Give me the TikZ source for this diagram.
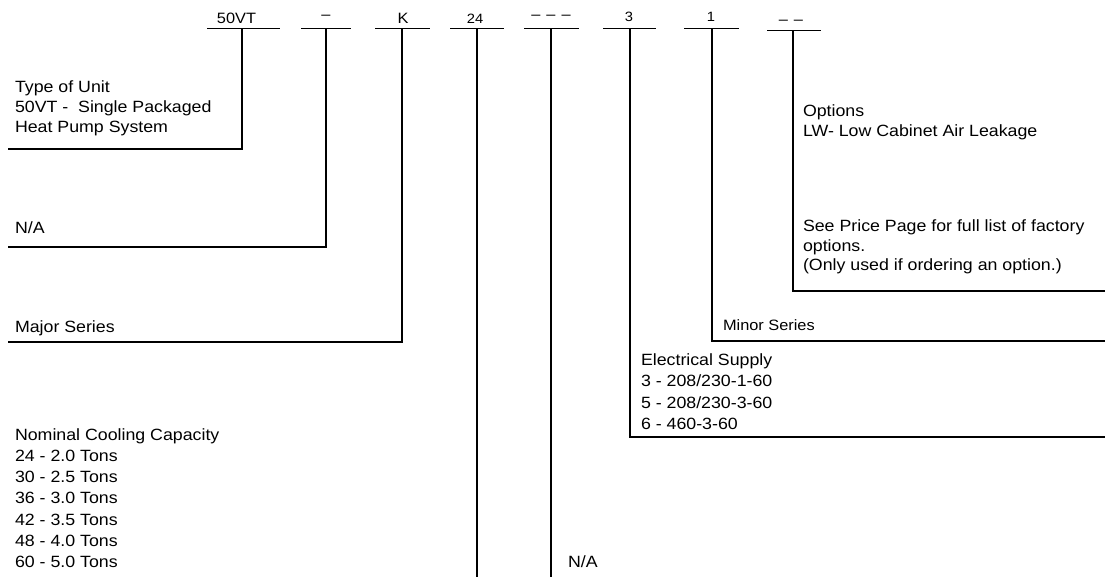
\documentclass[tikz,border=0pt]{standalone}
\usepackage{fontspec}
\setmainfont[FakeStretch=1.09]{Liberation Sans}
\begin{document}
\begin{tikzpicture}[x=1pt,y=-1pt,line width=1.6pt,
  every node/.style={inner sep=0pt,outer sep=0pt},
  desc/.style={anchor=base west,align=left,font=\fontsize{16.3}{20}\selectfont},
  codebig/.style={anchor=base,font=\fontsize{15}{15}\selectfont},
  codesmall/.style={anchor=base,font=\fontsize{13.5}{13.5}\selectfont},
  bar/.style={line width=1.6pt},
  lead/.style={line width=1.6pt}]
\useasboundingbox (0,0) rectangle (1105,577);

% code labels
\node[codebig]   (c1) at (236.5,24) {50VT};
\node[codebig]   (c2) at (326,20) {–};
\node[codebig]   (c3) at (403,24) {K};
\node[codesmall] (c4) at (475,24) {24};
\node[codebig]   (c5) at (551,20) {–\hspace{6pt}–\hspace{6pt}–};
\node[codesmall] (c6) at (629,22) {3};
\node[codesmall] (c7) at (711,22) {1};
\node[codebig]   (c8) at (791,24.5) {–\hspace{6pt}–};

% bars
\coordinate (l1) at (207,28.5); \coordinate (r1) at (280,28.5);
\coordinate (l2) at (301,28.5); \coordinate (r2) at (351,28.5);
\coordinate (l3) at (375,28.5); \coordinate (r3) at (430,28.5);
\coordinate (l4) at (450,28.5); \coordinate (r4) at (504,28.5);
\coordinate (l5) at (524,28.5); \coordinate (r5) at (579,28.5);
\coordinate (l6) at (603,28.5); \coordinate (r6) at (656,28.5);
\coordinate (l7) at (684,28.5); \coordinate (r7) at (739,28.5);
\coordinate (l8) at (767,30.5); \coordinate (r8) at (821,30.5);
\foreach \i in {1,...,8} { \draw[bar] (l\i) -- (r\i); }

% stems
\coordinate (t1) at (242,28.5);   \coordinate (e1) at (8,149);
\coordinate (t2) at (326,28.5);   \coordinate (e2) at (8,247);
\coordinate (t3) at (402,28.5);   \coordinate (e3) at (8,342);
\coordinate (t4) at (477,28.5);   \coordinate (e4) at (477,577);
\coordinate (t5) at (551,28.5);   \coordinate (e5) at (551,577);
\coordinate (t6) at (630,28.5);   \coordinate (e6) at (1105,437);
\coordinate (t7) at (712,28.5);   \coordinate (e7) at (1105,341);
\coordinate (t8) at (793,30.5);   \coordinate (e8) at (1105,291);

\draw[lead] (t1) |- (e1);
\draw[lead] (t2) |- (e2);
\draw[lead] (t3) |- (e3);
\draw[lead] (t4) -- (e4);
\draw[lead] (t5) -- (e5);
\draw[lead] (t6) |- (e6);
\draw[lead] (t7) |- (e7);
\draw[lead] (t8) |- (e8);

% descriptions (anchor = baseline of last line)
\node[desc] (d1) at (15,132.5) {Type of Unit\\50VT -\ \ Single Packaged\\Heat Pump System};
\node[desc] (d2) at (15,233.5) {N/A};
\node[desc] (d3) at (15,332) {Major Series};
\node[desc,font=\fontsize{16.3}{21.2}\selectfont] (d4) at (15,567.5)
  {Nominal Cooling Capacity\\24 - 2.0 Tons\\30 - 2.5 Tons\\36 - 3.0 Tons\\42 - 3.5 Tons\\48 - 4.0 Tons\\60 - 5.0 Tons};
\node[desc] (d5) at (568,567.5) {N/A};
\node[desc,font=\fontsize{16.3}{21.3}\selectfont] (d6) at (641,429.5)
  {Electrical Supply\\3 - 208/230-1-60\\5 - 208/230-3-60\\6 - 460-3-60};
\node[desc,font=\fontsize{15}{20}\selectfont] (d7) at (723,330.5) {Minor Series};
\node[desc] (d8) at (803,136.5) {Options\\LW- Low Cabinet Air Leakage};
\node[desc,font=\fontsize{16.3}{19.5}\selectfont] (d9) at (803,270.5)
  {See Price Page for full list of factory\\options.\\(Only used if ordering an option.)};
\end{tikzpicture}
\end{document}
